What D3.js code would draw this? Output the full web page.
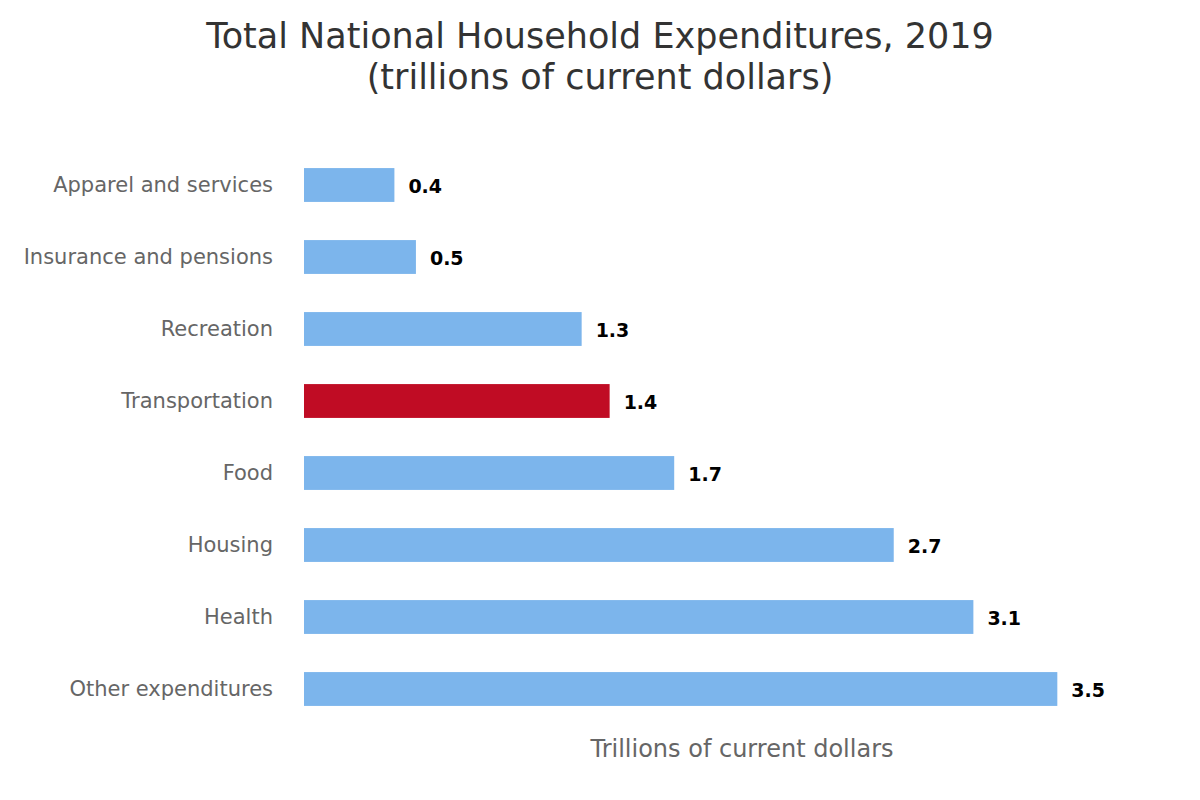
<!DOCTYPE html>
<html>
<head>
<meta charset="utf-8">
<script src="https://cdn.jsdelivr.net/npm/d3@7"></script>
<style>
  body { margin: 0; background: #fff; }
  svg { display: block; font-family: "DejaVu Sans", sans-serif; }
</style>
</head>
<body>
<div id="chart"></div>
<script>
// categories, top to bottom
const categories = ["Apparel and services", "Insurance and pensions", "Recreation", "Transportation",
  "Food", "Housing", "Health", "Other expenditures"];
// trillions of current dollars
const values = [0.42, 0.52, 1.29, 1.42, 1.72, 2.74, 3.11, 3.50];
const highlight = "Transportation";
const titleLines = ["Total National Household Expenditures, 2019", "(trillions of current dollars)"];
const axisTitle = "Trillions of current dollars";

const width = 1200, height = 800;
const margin = { top: 149, right: 20, bottom: 75, left: 304 };

const svg = d3.select("#chart").append("svg")
  .attr("width", width)
  .attr("height", height);

// title
svg.append("text")
  .attr("text-anchor", "middle")
  .style("font-size", "35px")
  .style("fill", "#333")
  .selectAll("tspan")
  .data(titleLines)
  .join("tspan")
  .attr("x", width / 2)
  .attr("y", (d, i) => 48 + i * 41)
  .text(d => d);

const x = d3.scaleLinear()
  .domain([0, 4.07])
  .range([margin.left, width - margin.right]);

const y = d3.scaleBand()
  .domain(categories)
  .range([margin.top, height - margin.bottom])
  .paddingInner(0.53)
  .paddingOuter(0.265);

// category axis, no line or ticks
const yAxis = svg.append("g")
  .attr("transform", `translate(${margin.left},0)`)
  .call(d3.axisLeft(y).tickSize(0).tickPadding(31));
yAxis.select(".domain").remove();
yAxis.selectAll("text")
  .style("font-family", "DejaVu Sans, sans-serif")
  .style("font-size", "21px")
  .style("fill", "#666");

const rows = categories.map((c, i) => ({ cat: c, val: values[i] }));

svg.append("g")
  .selectAll("rect")
  .data(rows)
  .join("rect")
  .attr("x", x(0))
  .attr("y", d => y(d.cat))
  .attr("width", d => x(d.val) - x(0))
  .attr("height", y.bandwidth())
  .attr("fill", d => d.cat === highlight ? "#c00c24" : "#7cb5ec");

// value labels
svg.append("g")
  .selectAll("text")
  .data(rows)
  .join("text")
  .attr("x", d => x(d.val) + 14)
  .attr("y", d => y(d.cat) + y.bandwidth() / 2)
  .attr("dy", "0.4em")
  .style("font-size", "19px")
  .style("font-weight", "bold")
  .style("fill", "#000")
  .text(d => d3.format(".1f")(d.val));

// x axis title
svg.append("text")
  .attr("x", (x.range()[0] + x.range()[1]) / 2)
  .attr("y", 757)
  .attr("text-anchor", "middle")
  .style("font-size", "24px")
  .style("fill", "#666")
  .text(axisTitle);
</script>
</body>
</html>
